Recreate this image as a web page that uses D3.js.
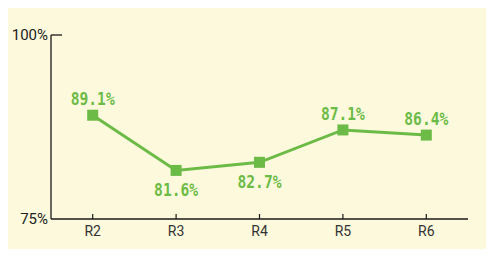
<!DOCTYPE html>
<html><head><meta charset="utf-8">
<script src="https://cdn.jsdelivr.net/npm/d3@7"></script>
<style>body{margin:0;background:#fff}svg{display:block}</style>
</head><body>
<svg id="c" width="491" height="256"></svg>
<script>
const categories = ["R2","R3","R4","R5","R6"];
const values = [89.1, 81.6, 82.7, 87.1, 86.4];
const labelPos = ["above","below","below","above","above"];
const yTicks = [75, 100];

const svg = d3.select("#c");
svg.append("rect").attr("x",8).attr("y",8).attr("width",478).attr("height",241).attr("fill","#fdf9dc");

const x = d3.scaleBand().domain(categories).range([51,468]);
const y = d3.scaleLinear().domain([75,100]).range([219,35]);
const cx = d => x(d) + x.bandwidth()/2;
const green = "#6cbb47";
const axisColor = "#1a1a1a";

// y axis
svg.append("line").attr("x1",51).attr("x2",51).attr("y1",y(100)).attr("y2",y(75))
  .attr("stroke",axisColor).attr("stroke-width",1.3);
svg.append("line").attr("x1",51).attr("x2",62).attr("y1",y(100)).attr("y2",y(100))
  .attr("stroke",axisColor).attr("stroke-width",1.3);
svg.selectAll("text.yt").data(yTicks).join("text").attr("class","yt")
  .attr("x",48).attr("y",d=>y(d)+1).attr("text-anchor","end").attr("dominant-baseline","middle")
  .attr("font-family","Roboto, 'Noto Sans', sans-serif").attr("font-size",15).attr("fill","#222")
  .text(d=>d+"%");

// x axis
svg.append("line").attr("x1",51).attr("x2",468).attr("y1",y(75)).attr("y2",y(75))
  .attr("stroke",axisColor).attr("stroke-width",1.3);
svg.selectAll("line.xt").data(categories).join("line").attr("class","xt")
  .attr("x1",cx).attr("x2",cx).attr("y1",y(75)).attr("y2",y(75)-5)
  .attr("stroke",axisColor).attr("stroke-width",1.2);
svg.selectAll("text.xl").data(categories).join("text").attr("class","xl")
  .attr("x",cx).attr("y",236).attr("text-anchor","middle")
  .attr("font-family","Roboto, 'Noto Sans', sans-serif").attr("font-size",14).attr("fill","#333")
  .text(d=>d);

// line
const data = categories.map((c,i)=>({c, v:values[i], pos:labelPos[i]}));
svg.append("path").datum(data)
  .attr("d", d3.line().x(d=>cx(d.c)).y(d=>y(d.v)))
  .attr("fill","none").attr("stroke",green).attr("stroke-width",3);
const ms = 11;
svg.selectAll("rect.m").data(data).join("rect").attr("class","m")
  .attr("x",d=>cx(d.c)-ms/2).attr("y",d=>y(d.v)-ms/2).attr("width",ms).attr("height",ms)
  .attr("fill",green);
svg.selectAll("text.lb").data(data).join("text").attr("class","lb")
  .attr("x",d=>cx(d.c)).attr("y",d=>d.pos==="above" ? y(d.v)-10 : y(d.v)+26)
  .attr("text-anchor","middle")
  .attr("font-family","'DejaVu Sans Mono', monospace").attr("font-weight","bold")
  .attr("font-size",18).attr("fill",green)
  .attr("textLength",44).attr("lengthAdjust","spacingAndGlyphs")
  .text(d=>d.v.toFixed(1)+"%");
</script>
</body></html>
